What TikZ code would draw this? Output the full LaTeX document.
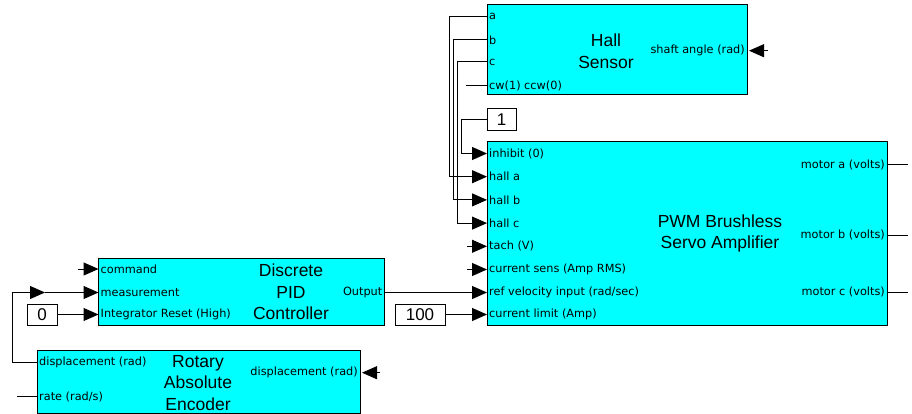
\documentclass[tikz,border=0pt]{standalone}
\usepackage{fontspec}
\setmainfont{Liberation Sans}
\newfontfamily\portfamily{DejaVu Sans}
\usetikzlibrary{arrows.meta}
\definecolor{blockcyan}{RGB}{0,255,255}

\tikzset{
  block/.style={draw=black, fill=blockcyan, line width=1pt, inner sep=0pt},
  portin/.style={anchor=west, inner sep=2pt, font=\portfamily\fontsize{11.3}{12}\selectfont},
  portout/.style={anchor=east, inner sep=2pt, font=\portfamily\fontsize{11.3}{12}\selectfont},
  blocktitle/.style={align=center, inner sep=0pt, font=\fontsize{17.5}{21.5}\selectfont},
  constbox/.style={draw=black, fill=white, line width=1pt, inner sep=0pt, font=\fontsize{17}{17}\selectfont},
  wire/.style={line width=1pt},
  sig/.style={wire, -{Triangle[length=15pt,width=13pt]}},
}

\begin{document}
\begin{tikzpicture}[x=1pt,y=-1pt]
\useasboundingbox (0,0) rectangle (912,414);

% Hall sensor
\node[block, minimum width=260pt, minimum height=90pt] (hall) at (617,50) {};
\node[blocktitle] (hall-t) at (606,51) {Hall\\Sensor};
\node[portin] (hall-a) at (487,16.7) {a};
\node[portin] (hall-b) at (487,40) {b};
\node[portin] (hall-c) at (487,62) {c};
\node[portin] (hall-cw) at (487,85.5) {cw(1) ccw(0)};
\node[portout] (hall-shaft) at (747,50.7) {shaft angle (rad)};

% PWM amplifier
\node[block, minimum width=400pt, minimum height=183pt] (pwm) at (687,233.5) {};
\node[blocktitle] (pwm-t) at (720,233.5) {PWM Brushless\\Servo Amplifier};
\node[portin] (pwm-inh) at (487,153.5) {inhibit (0)};
\node[portin] (pwm-ha) at (487,176.7) {hall a};
\node[portin] (pwm-hb) at (487,199.9) {hall b};
\node[portin] (pwm-hc) at (487,223.1) {hall c};
\node[portin] (pwm-tach) at (487,246.3) {tach (V)};
\node[portin] (pwm-cs) at (487,269.5) {current sens (Amp RMS)};
\node[portin] (pwm-ref) at (487,292.5) {ref velocity input (rad/sec)};
\node[portin] (pwm-lim) at (487,314.5) {current limit (Amp)};
\node[portout] (pwm-ma) at (887,165) {motor a (volts)};
\node[portout] (pwm-mb) at (887,235) {motor b (volts)};
\node[portout] (pwm-mc) at (887,292.3) {motor c (volts)};

% PID controller
\node[block, minimum width=286pt, minimum height=67pt] (pid) at (241.5,291.5) {};
\node[blocktitle] (pid-t) at (291,292) {Discrete\\PID\\Controller};
\node[portin] (pid-cmd) at (98.5,269) {command};
\node[portin] (pid-meas) at (98.5,292.5) {measurement};
\node[portin] (pid-rst) at (98.5,314.5) {Integrator Reset (High)};
\node[portout] (pid-out) at (384.5,292.5) {Output};

% encoder
\node[block, minimum width=323pt, minimum height=63pt] (enc) at (198.5,381.5) {};
\node[blocktitle] (enc-t) at (198,383) {Rotary\\Absolute\\Encoder};
\node[portin] (enc-disp) at (37,362.3) {displacement (rad)};
\node[portin] (enc-rate) at (37,396.7) {rate (rad/s)};
\node[portout] (enc-dout) at (360,372.7) {displacement (rad)};

% constants
\node[constbox, minimum width=29pt, minimum height=22pt] (one) at (501.5,119.2) {1};
\node[constbox, minimum width=50pt, minimum height=21pt] (hundred) at (420,314.5) {100};
\node[constbox, minimum width=30pt, minimum height=21pt] (zero) at (42,314.5) {0};

\coordinate (cw-end) at (466,85.5);
\coordinate (shaft-in) at (768,50.7);
\coordinate (tach-in) at (467,246.3);
\coordinate (cs-in) at (467,269.5);
\coordinate (ma-out) at (908,165);
\coordinate (mb-out) at (908,235);
\coordinate (mc-out) at (908,292.3);
\coordinate (cmd-in) at (78,269);
\coordinate (meas-mid) at (45,292.5);
\coordinate (rate-end) at (17,396.7);
\coordinate (encd-in) at (380,372.7);

% wires
\draw[sig] (hall-a.west) -- ++(-38,0) |- (pwm-ha.west);
\draw[sig] (hall-b.west) -- ++(-34,0) |- (pwm-hb.west);
\draw[sig] (hall-c.west) -- ++(-30,0) |- (pwm-hc.west);
\draw[wire] (hall-cw.west) -- (cw-end);
\draw[sig] (one.west) -- ++(-25,0) |- (pwm-inh.west);
\draw[sig, shorten >=2pt] (shaft-in) -- (hall-shaft.east);
\draw[sig] (tach-in) -- (pwm-tach.west);
\draw[sig] (cs-in) -- (pwm-cs.west);
\draw[wire] (pwm-ma.east) -- (ma-out);
\draw[wire] (pwm-mb.east) -- (mb-out);
\draw[wire] (pwm-mc.east) -- (mc-out);
\draw[sig] (pid-out.east) -- (pwm-ref.west);
\draw[sig] (hundred.east) -- (pwm-lim.west);
\draw[sig] (cmd-in) -- (pid-cmd.west);
\draw[sig] (enc-disp.west) -- ++(-25,0) |- (meas-mid);
\draw[sig] (meas-mid) -- (pid-meas.west);
\draw[sig] (zero.east) -- (pid-rst.west);
\draw[wire] (enc-rate.west) -- (rate-end);
\draw[sig, shorten >=2pt] (encd-in) -- (enc-dout.east);
\end{tikzpicture}
\end{document}
